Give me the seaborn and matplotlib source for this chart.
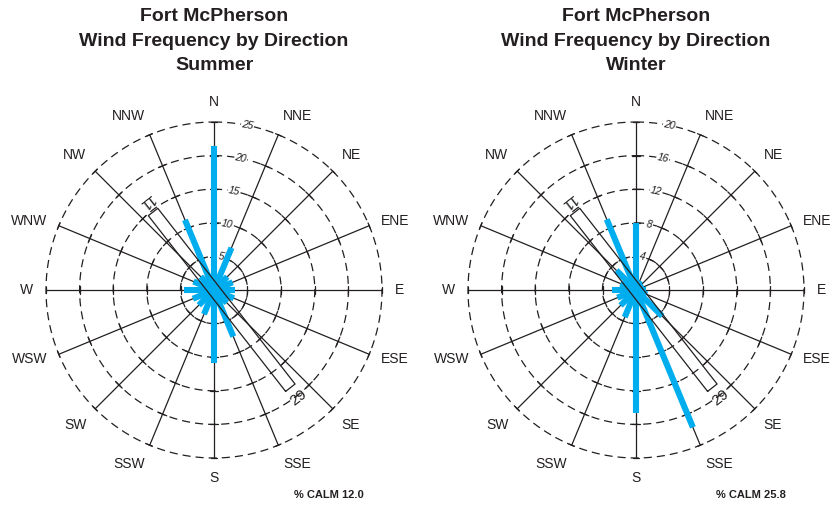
import numpy as np
import pandas as pd
import seaborn as sns
import matplotlib
matplotlib.use("Agg")
import matplotlib.pyplot as plt

# -------------------------------------------------------------------
# Data (percent of observations per direction, read off the roses)
# -------------------------------------------------------------------
DIRECTIONS = ["N", "NNE", "NE", "ENE", "E", "ESE", "SE", "SSE",
              "S", "SSW", "SW", "WSW", "W", "WNW", "NW", "NNW"]
SUMMER_PCT = [21.5, 6.8, 2.8, 3.0, 3.1, 3.2, 2.7, 7.5,
              10.9, 3.9, 3.2, 3.4, 4.5, 3.3, 2.8, 11.3]
WINTER_PCT = [8.0, 1.2, 1.0, 1.0, 1.2, 1.4, 4.4, 17.7,
              14.7, 3.5, 2.6, 2.4, 2.9, 2.0, 3.3, 9.1]
SUMMER_RINGS = [5, 10, 15, 20, 25]
WINTER_RINGS = [4, 8, 12, 16, 20]
SUMMER_CALM = 12.0
WINTER_CALM = 25.8
SEASONS = ["Summer", "Winter"]
RUNWAY_LABELS = ["11", "29"]
RUNWAY_BEARING = 142  # bearing of the "29" end as drawn on the rose

# -------------------------------------------------------------------
# Layout / style
# -------------------------------------------------------------------
FIG_W, FIG_H = 834, 505
CENTERS_X = [214, 636]
CENTER_Y = 290
R_PX = 168
BAR_COLOR = "#00aeef"
INK = "#231f20"

sns.set_theme(style="white")
plt.rcParams["font.family"] = ["Liberation Sans", "DejaVu Sans"]


def draw_rose(fig, cx, values, rings, season, calm):
    rmax = rings[-1]
    scale = rmax / R_PX  # data units per pixel
    ax = fig.add_axes([(cx - R_PX) / FIG_W, (FIG_H - CENTER_Y - R_PX) / FIG_H,
                       2 * R_PX / FIG_W, 2 * R_PX / FIG_H], projection="polar")
    ax.set_theta_zero_location("N")
    ax.set_theta_direction(-1)
    ax.patch.set_alpha(0)

    theta = np.deg2rad(np.arange(len(DIRECTIONS)) * 22.5)

    # dashed rings
    circ = np.linspace(0, 2 * np.pi, 721)
    for r in rings:
        ax.plot(circ, np.full_like(circ, r), color=INK, lw=0.9,
                ls=(0, (6.5, 4)), clip_on=False, zorder=1)

    # spokes with ticks at each ring
    for t in theta:
        ax.plot([t, t], [0, rmax], color=INK, lw=0.9, clip_on=False, zorder=1)
        for r in rings[:-1]:
            d = 4.5 / (r / scale)
            ax.plot([t - d, t + d], [r, r], color=INK, lw=0.9, zorder=1)
        d = 3.0 / R_PX
        ax.plot([t - d, t + d], [rmax, rmax], color=INK, lw=0.9,
                clip_on=False, zorder=1)

    # ring labels
    lab_t = np.deg2rad(11.5)
    for r in rings:
        ax.text(lab_t, r, str(r), fontsize=7.5, style="italic", color=INK,
                rotation=-11.5, ha="center", va="center", zorder=2,
                bbox=dict(facecolor="white", edgecolor="none", pad=0.6))

    # bars, drawn through seaborn as one line per direction
    df = pd.DataFrame({
        "direction": np.repeat(DIRECTIONS, 2),
        "theta": np.repeat(theta, 2),
        "pct": np.ravel(np.column_stack([np.zeros(len(values)), values])),
    })
    sns.lineplot(data=df, x="theta", y="pct", units="direction",
                 estimator=None, sort=False, color=BAR_COLOR, lw=4.4,
                 solid_capstyle="butt", legend=False, ax=ax, zorder=3)

    # runway outline
    h = np.deg2rad(RUNWAY_BEARING)
    u = np.array([np.sin(h), np.cos(h)])
    n = np.array([np.cos(h), -np.sin(h)])
    se, nw = 124 * u, -99 * u
    corners = np.array([se + 6 * n, se - 6 * n, nw - 6 * n, nw + 6 * n, se + 6 * n])
    ax.plot(np.arctan2(corners[:, 0], corners[:, 1]),
            np.hypot(corners[:, 0], corners[:, 1]) * scale,
            color=INK, lw=0.9, zorder=4)
    rot = 180 - RUNWAY_BEARING
    ax.text(h + np.pi, 111 * scale, RUNWAY_LABELS[0], fontsize=11, color=INK,
            rotation=rot + 180, rotation_mode="anchor", ha="center",
            va="center", zorder=4)
    ax.text(h, 137 * scale, RUNWAY_LABELS[1], fontsize=11, color=INK,
            rotation=rot, rotation_mode="anchor", ha="center",
            va="center", zorder=4)

    # direction labels
    for t, name in zip(theta, DIRECTIONS):
        s, c = np.sin(t), np.cos(t)
        ha = "left" if s > 0.1 else ("right" if s < -0.1 else "center")
        va = "bottom" if c > 0.5 else ("top" if c < -0.5 else "center")
        ax.text(t, rmax * 1.075, name, fontsize=10, color=INK, ha=ha, va=va)

    ax.set_ylim(0, rmax)
    ax.grid(False)
    ax.set_xticks([])
    ax.set_yticks([])
    ax.set_xlabel("")
    ax.set_ylabel("")
    ax.spines["polar"].set_visible(False)

    # titles and calm note
    for line, base in zip(["Fort McPherson", "Wind Frequency by Direction", season],
                          [21, 45.5, 69.5]):
        fig.text(cx / FIG_W, 1 - base / FIG_H, line, fontsize=14,
                 weight="bold", color=INK, ha="center", va="baseline")
    fig.text((cx + 80) / FIG_W, 1 - 498 / FIG_H, f"% CALM {calm:.1f}",
             fontsize=8, weight="bold", color=INK, ha="left", va="baseline")


def main():
    fig = plt.figure(figsize=(FIG_W / 100, FIG_H / 100), dpi=100)
    fig.patch.set_facecolor("white")
    draw_rose(fig, CENTERS_X[0], SUMMER_PCT, SUMMER_RINGS, SEASONS[0], SUMMER_CALM)
    draw_rose(fig, CENTERS_X[1], WINTER_PCT, WINTER_RINGS, SEASONS[1], WINTER_CALM)
    fig.savefig("out.png", dpi=100)
    plt.close(fig)


if __name__ == "__main__":
    main()
